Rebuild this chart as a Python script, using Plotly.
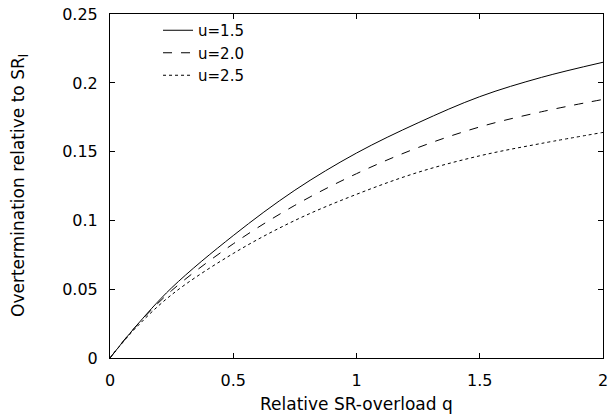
import plotly.graph_objects as go

q = [0, 0.1, 0.25, 0.5, 0.75, 1.0, 1.25, 1.5, 1.75, 2.0]
u15 = [0, 0.022, 0.051, 0.089, 0.122, 0.149, 0.171, 0.190, 0.204, 0.215]
u20 = [0, 0.022, 0.049, 0.083, 0.111, 0.134, 0.153, 0.168, 0.179, 0.188]
u25 = [0, 0.021, 0.046, 0.076, 0.100, 0.119, 0.135, 0.147, 0.156, 0.164]

names = ["u=1.5", "u=2.0", "u=2.5"]
dashes = ["solid", "dash", "dot"]
x_ticks = [0, 0.5, 1, 1.5, 2]
x_ticktext = ["0", "0.5", "1", "1.5", "2"]
y_ticks = [0, 0.05, 0.1, 0.15, 0.2, 0.25]
y_ticktext = ["0", "0.05", "0.1", "0.15", "0.2", "0.25"]

FONT = "DejaVu Sans, Liberation Sans, Arial, sans-serif"

fig = go.Figure()
for name, ys, dash in zip(names, [u15, u20, u25], dashes):
    fig.add_trace(go.Scatter(x=q, y=ys, mode="lines", name=name,
                             line=dict(color="black", width=1, dash=dash, shape="spline")))

axis_common = dict(showgrid=False, zeroline=False, showline=True, linecolor="black",
                   linewidth=1, mirror="allticks", ticks="inside", ticklen=5,
                   tickcolor="black", tickfont=dict(family=FONT, size=16, color="black"),
                   automargin=False)
fig.update_xaxes(range=[0, 2.0001], tickvals=x_ticks, ticktext=x_ticktext,
                 ticklabelstandoff=8, **axis_common)
fig.update_yaxes(range=[0, 0.2501], tickvals=y_ticks, ticktext=y_ticktext,
                 ticklabelstandoff=8, **axis_common)

fig.add_annotation(text="Relative SR-overload q", xref="paper", yref="paper",
                   x=0.5, y=0, xanchor="center", yanchor="middle", yshift=-46,
                   showarrow=False, font=dict(family=FONT, size=17, color="black"))
fig.add_annotation(text="Overtermination relative to SR<sub>l</sub>", xref="paper", yref="paper",
                   x=0, y=0.5, xanchor="center", yanchor="middle", xshift=-91,
                   textangle=-90, showarrow=False,
                   font=dict(family=FONT, size=17, color="black"))

fig.update_layout(width=611, height=419, margin=dict(l=110, r=8, t=14, b=61),
                  paper_bgcolor="white", plot_bgcolor="white",
                  font=dict(family=FONT, size=15, color="black"),
                  showlegend=True,
                  legend=dict(x=0.0974, y=1.0, xanchor="left", yanchor="top",
                              bgcolor="rgba(0,0,0,0)", font=dict(family=FONT, size=15),
                              tracegroupgap=0))
fig.write_html("out.html")
